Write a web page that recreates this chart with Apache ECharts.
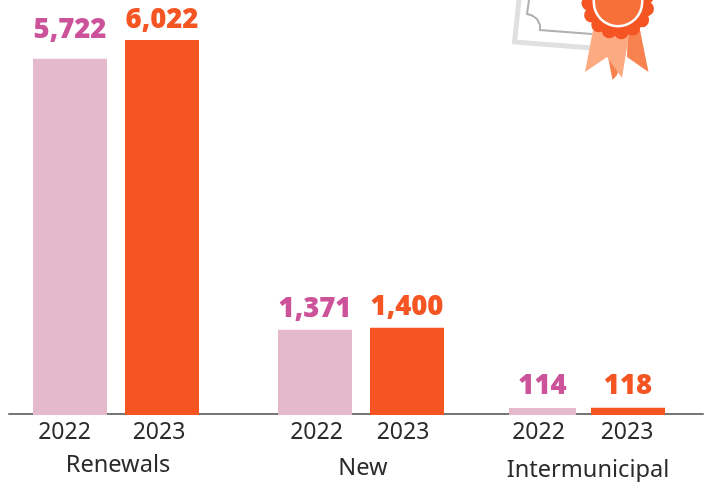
<!DOCTYPE html>
<html><head><meta charset="utf-8">
<style>html,body{margin:0;padding:0;background:#fff}#c{width:707px;height:482px}</style>
<script src="https://cdn.jsdelivr.net/npm/echarts@6/dist/echarts.min.js"></script>
</head><body><div id="c"></div>
<script>
const groups = ['Renewals', 'New', 'Intermunicipal'];
const years = ['2022', '2023'];
const renewals = [5722, 6022];
const newTickets = [1371, 1400];
const intermunicipal = [114, 118];
const groupValues = [renewals, newTickets, intermunicipal];

// layout only: [left, width, year-label nudge, value-label distance]
const barBoxes = [[[33,74,5.5,15],[125,74,3,6]],[[278,74,-1.5,6],[370,74,4,7]],[[509,67,4,8],[591,74,1,7]]];
const groupLabelPos = [[118,465],[363,468],[588,470]];
const colors = ['#e4b9cb', '#f45523'];
const labelColors = ['#cc5299', '#f45523'];
const TEXT = '#2b2b2b';
const FONT = '"Noto Sans", sans-serif';
const yMax = 6022;

const grid = [], xAxis = [], yAxis = [], series = [];
// baseline axis
grid.push({left: 9, width: 694, top: 40, height: 374});
xAxis.push({gridIndex: 0, type: 'category', data: [''], axisTick: {show: false}, axisLabel: {show: false},
  axisLine: {lineStyle: {color: '#777', width: 2}}, z: 1});
yAxis.push({gridIndex: 0, type: 'value', min: 0, max: yMax, show: false, splitLine: {show: false}});

groups.forEach((g, gi) => {
  years.forEach((yr, yi) => {
    const [left, width, nudge, dist] = barBoxes[gi][yi];
    const idx = grid.length;
    grid.push({left, width, top: 40, height: 375});
    xAxis.push({gridIndex: idx, type: 'category', data: [yr],
      axisLine: {show: false}, axisTick: {show: false},
      axisLabel: {color: TEXT, fontFamily: FONT, fontSize: 23, margin: 6, interval: 0,
        padding: [0, Math.max(nudge, 0) * 2, 0, Math.max(-nudge, 0) * 2]}});
    yAxis.push({gridIndex: idx, type: 'value', min: 0, max: yMax, show: false, splitLine: {show: false}});
    series.push({type: 'bar', xAxisIndex: idx, yAxisIndex: idx, barWidth: width, z: 3,
      data: [groupValues[gi][yi]], itemStyle: {color: colors[yi]}, silent: true,
      label: {show: true, position: 'top', distance: dist, color: labelColors[yi],
        fontFamily: '"Noto Sans", "Open Sans", sans-serif', fontWeight: 900, fontSize: 27.5,
        textBorderColor: 'none', textBorderWidth: 0,
        formatter: p => p.value.toLocaleString('en-US')}});
  });
});

// decorative certificate and rosette
const rosette = [];
const n = 15;
for (let i = 0; i < n; i++) {
  const a = i / n * Math.PI * 2 + 0.2;
  rosette.push({type: 'circle', z: 13, shape: {cx: 618 + 29 * Math.cos(a), cy: 3 + 29 * Math.sin(a), r: 7.5}, style: {fill: '#f45523'}});
}
const graphic = [
  {type: 'polyline', z: 10, shape: {points: [[519,0],[514.5,42],[592,48]]}, style: {stroke: '#dfe0e1', lineWidth: 5, fill: null}},
  {type: 'polyline', z: 10, shape: {points: [[529,0],[527,14],[532,15.5],[537,19],[540,25],[540,30],[592,34]]}, style: {stroke: '#b0b0b0', lineWidth: 2, fill: null}},
  {type: 'polygon', z: 11, shape: {points: [[608,57],[612.5,80],[617,75],[622,60]]}, style: {fill: '#f7814f'}},
  {type: 'polygon', z: 11, shape: {points: [[628,30],[640,30],[648.5,72],[627,57]]}, style: {fill: '#f7814f'}},
  {type: 'polygon', z: 12, shape: {points: [[593,30],[585,72],[607,57],[622,78],[629,35]]}, style: {fill: '#fbaa82'}},
  ...rosette,
  {type: 'circle', z: 14, shape: {cx: 618, cy: 3, r: 31}, style: {fill: '#f45523'}},
  {type: 'circle', z: 15, shape: {cx: 618, cy: 2, r: 25.5}, style: {fill: '#ffffff'}},
  {type: 'circle', z: 16, shape: {cx: 618, cy: 2, r: 23}, style: {fill: '#f7703a'}},
  ...groups.map((g, i) => ({type: 'text', z: 20, x: groupLabelPos[i][0], y: groupLabelPos[i][1],
    style: {text: g, fill: TEXT, font: '23.6px ' + FONT, textAlign: 'center', textVerticalAlign: 'middle'}}))
];

const chart = echarts.init(document.getElementById('c'), null, {renderer: 'canvas'});
chart.setOption({animation: false, backgroundColor: '#fff', grid, xAxis, yAxis, series, graphic});
</script></body></html>
